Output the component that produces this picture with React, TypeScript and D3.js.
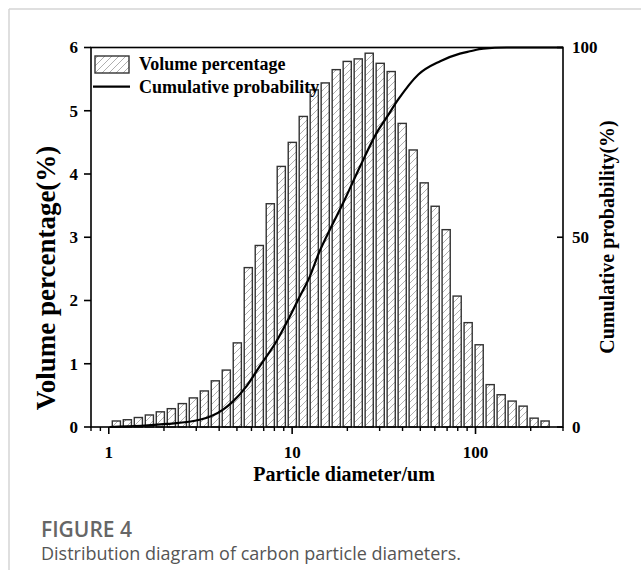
import React from "react";
import * as d3 from "d3";

const diameters = [1.10, 1.263, 1.45, 1.665, 1.911, 2.194, 2.519, 2.892, 3.32, 3.811, 4.375, 5.023, 5.766, 6.62, 7.6, 8.725, 10.02, 11.5, 13.2, 15.15, 17.4, 19.97, 22.93, 26.32, 30.22, 34.69, 39.83, 45.72, 52.49, 60.26, 69.18, 79.42, 91.17, 104.7, 120.2, 138.0, 158.4, 181.8, 208.7, 239.6];
const volumePct = [0.095, 0.115, 0.15, 0.19, 0.24, 0.29, 0.37, 0.46, 0.57, 0.73, 0.9, 1.33, 2.52, 2.87, 3.53, 4.12, 4.5, 4.91, 5.33, 5.44, 5.65, 5.78, 5.82, 5.91, 5.75, 5.62, 4.8, 4.38, 3.86, 3.49, 3.12, 2.07, 1.65, 1.3, 0.67, 0.51, 0.41, 0.33, 0.14, 0.095];

const cumDiam = [1.01, 1.5, 2.06, 3.13, 4.2, 4.76, 5.63, 6.65, 8.22, 9.52, 11.0, 12.5, 14.0, 16.4, 19.0, 23.5, 28.9, 32.7, 37.9, 48.8, 64.2, 82.2, 93.2, 110, 148, 300];
const cumPct = [0, 0.3, 0.8, 1.9, 4.6, 6.75, 10.7, 16.0, 22.6, 28.3, 34.4, 39.7, 45.9, 52.9, 59.1, 68.7, 77.5, 81.5, 86.3, 92.9, 96.4, 98.4, 99.0, 99.7, 100, 100];

const leftTicks = [0, 1, 2, 3, 4, 5, 6];
const rightTicks = [0, 50, 100];
const xMajor = [1, 10, 100];
const xMinor = [0.8, 0.9, 2, 3, 4, 5, 6, 7, 8, 9, 20, 30, 40, 50, 60, 70, 80, 90, 200, 300];

const L = 91, R = 563, T = 47.5, B = 427;
const serif = "'Liberation Serif', 'Times New Roman', serif";
const sans = "'Open Sans', 'Noto Sans', sans-serif";

export default function App() {
  const x = d3.scaleLog().domain([0.8, 300]).range([L, R]);
  const yL = d3.scaleLinear().domain([0, 6]).range([B, T]);
  const yR = d3.scaleLinear().domain([0, 100]).range([B, T]);
  const step = (x(diameters[diameters.length - 1]) - x(diameters[0])) / (diameters.length - 1);
  const bw = step * 0.74;
  const line = d3
    .line<number>()
    .x((_, i) => x(cumDiam[i]))
    .y((d) => yR(d))
    .curve(d3.curveMonotoneX);

  return (
    <svg
      width={641}
      height={570}
      style={{ position: "absolute", left: 0, top: 0, background: "#fff" }}
    >
      <defs>
        <pattern id="hatch" patternUnits="userSpaceOnUse" width={7} height={7}>
          <rect width={7} height={7} fill="#fff" />
          <path d="M-1,8 L8,-1 M-2,2 L2,-2 M5,9 L9,5" stroke="#9a9a9a" strokeWidth={0.8} />
        </pattern>
      </defs>
      {/* card border */}
      <line x1={9} y1={9} x2={641} y2={9} stroke="#d4d4d4" strokeWidth={1.5} />
      <line x1={9} y1={9} x2={9} y2={570} stroke="#d4d4d4" strokeWidth={1.5} />

      {/* bars */}
      {diameters.map((d, i) => (
        <rect
          key={i}
          x={x(d) - bw / 2}
          y={yL(volumePct[i])}
          width={bw}
          height={B - yL(volumePct[i])}
          fill="url(#hatch)"
          stroke="#333"
          strokeWidth={1.4}
        />
      ))}

      {/* cumulative curve */}
      <path d={line(cumPct) || ""} fill="none" stroke="#000" strokeWidth={2.2} />

      {/* frame */}
      <rect x={L} y={T} width={R - L} height={B - T} fill="none" stroke="#000" strokeWidth={1.6} />

      {/* left ticks */}
      {leftTicks.map((t) => (
        <g key={"l" + t}>
          <line x1={L - 7} x2={L} y1={yL(t)} y2={yL(t)} stroke="#000" strokeWidth={1.6} />
          <text x={L - 13} y={yL(t)} dy="0.35em" textAnchor="end" fontFamily={serif} fontWeight="bold" fontSize={17}>
            {t}
          </text>
        </g>
      ))}
      {/* right ticks */}
      {rightTicks.map((t) => (
        <g key={"r" + t}>
          <line x1={R - 6} x2={R} y1={yR(t)} y2={yR(t)} stroke="#000" strokeWidth={1.6} />
          <text x={R + 9} y={yR(t)} dy="0.35em" textAnchor="start" fontFamily={serif} fontWeight="bold" fontSize={17}>
            {t}
          </text>
        </g>
      ))}
      {/* bottom ticks */}
      {xMajor.map((t) => (
        <g key={"x" + t}>
          <line x1={x(t)} x2={x(t)} y1={B} y2={B + 7} stroke="#000" strokeWidth={1.6} />
          <text x={x(t)} y={458} textAnchor="middle" fontFamily={serif} fontWeight="bold" fontSize={17}>
            {t}
          </text>
        </g>
      ))}
      {xMinor.map((t) => (
        <line key={"m" + t} x1={x(t)} x2={x(t)} y1={B} y2={B + 4} stroke="#000" strokeWidth={1.4} />
      ))}

      {/* axis titles */}
      <text x={344} y={481} textAnchor="middle" fontFamily={serif} fontWeight="bold" fontSize={20}>
        Particle diameter/um
      </text>
      <text
        transform="translate(55,278) rotate(-90)"
        textAnchor="middle"
        fontFamily={serif}
        fontWeight="bold"
        fontSize={27}
      >
        Volume percentage(%)
      </text>
      <text
        transform="translate(614,237) rotate(-90)"
        textAnchor="middle"
        fontFamily={serif}
        fontWeight="bold"
        fontSize={20}
      >
        Cumulative probability(%)
      </text>

      {/* legend */}
      <rect x={95} y={56} width={34} height={17} fill="url(#hatch)" stroke="#333" strokeWidth={1.4} />
      <text x={139} y={70} fontFamily={serif} fontWeight="bold" fontSize={18}>
        Volume percentage
      </text>
      <line x1={93} x2={130} y1={86.7} y2={86.7} stroke="#000" strokeWidth={2.2} />
      <text x={139} y={93} fontFamily={serif} fontWeight="bold" fontSize={18}>
        Cumulative probability
      </text>

      {/* caption */}
      <text x={41} y={537} fontFamily={sans} fontSize={21} fill="#666" fontWeight={600}>
        FIGURE 4
      </text>
      <text x={41} y={560} fontFamily={sans} fontSize={18} fill="#555">
        Distribution diagram of carbon particle diameters.
      </text>
    </svg>
  );
}
